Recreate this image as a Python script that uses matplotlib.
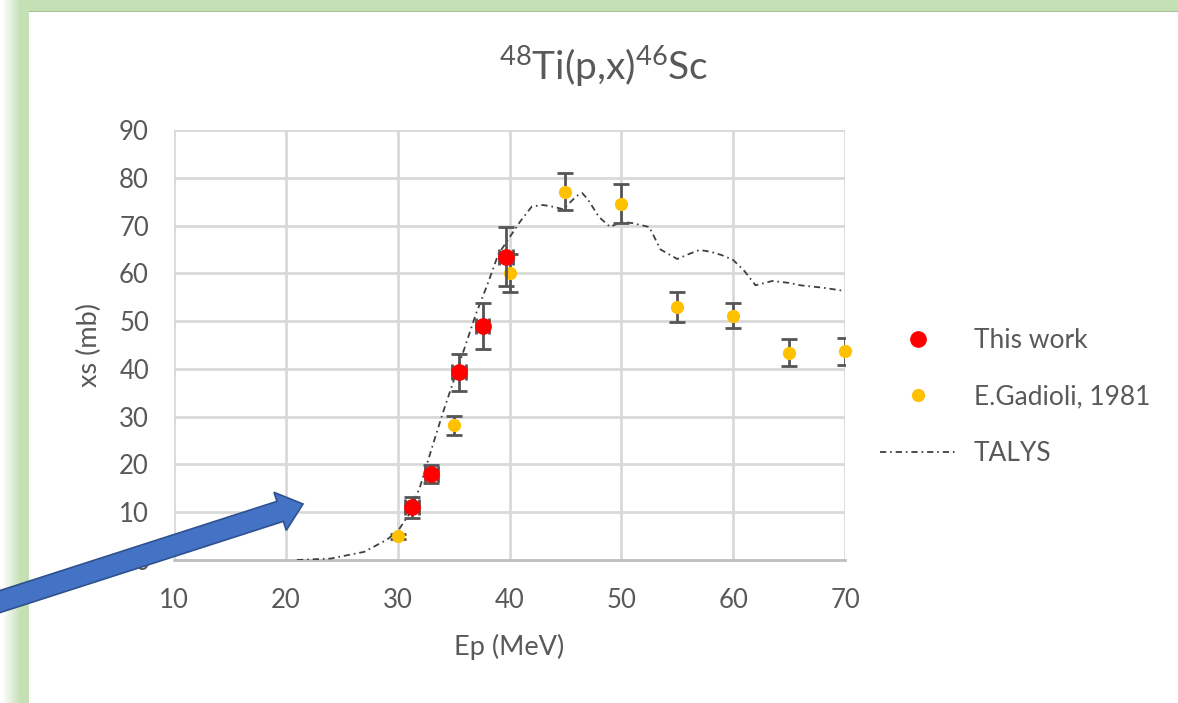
"""48Ti(p,x)46Sc cross section: this work vs Gadioli 1981 vs TALYS."""
import numpy as np
import matplotlib
matplotlib.use("Agg")
import matplotlib.pyplot as plt
from matplotlib.lines import Line2D
from matplotlib.patches import FancyArrow

plt.rcParams["font.family"] = ["Lato", "DejaVu Sans"]
plt.rcParams["mathtext.default"] = "regular"
plt.rcParams["lines.scale_dashes"] = False

# ---- data ----
this_x = [31.3, 33.0, 35.5, 37.6, 39.7]
this_y = [11.0, 18.0, 39.3, 48.9, 63.5]
this_yerr = [2.2, 1.9, 3.9, 4.8, 6.1]
this_xerr = [0.6, 0.6, 0.6, 0.6, 0.6]

gad_x = [30, 35, 40, 45, 50, 55, 60, 65, 70]
gad_y = [5.0, 28.2, 60.1, 77.1, 74.6, 53.0, 51.1, 43.4, 43.7]
gad_yerr = [0.5, 2.0, 4.0, 3.9, 4.1, 3.1, 2.6, 2.8, 2.8]

talys_x = [21, 24, 27, 29, 30, 31, 32, 33, 34, 35, 36, 37, 38, 39, 40, 41, 42,
           43, 44, 44.8, 46, 46.5, 47, 48, 49, 50, 51, 52.5, 53.5, 55, 56, 57,
           58, 59, 60, 61, 62, 63.5, 65, 66, 68, 70]
talys_y = [0, 0.3, 1.7, 4.2, 6.0, 9.5, 15.3, 23.0, 30.5, 37.5, 44.5, 51.5,
           57.5, 64.0, 67.5, 71.0, 74.0, 74.3, 73.9, 73.4, 76.2, 76.8, 75.5,
           71.8, 69.7, 70.8, 70.5, 69.7, 65.0, 63.0, 64.0, 64.9, 64.5, 63.8,
           62.8, 60.5, 57.5, 58.4, 58.0, 57.5, 57.0, 56.3]

xticks = [10, 20, 30, 40, 50, 60, 70]
yticks = [0, 10, 20, 30, 40, 50, 60, 70, 80, 90]

TXT = "#595959"
ERR = "#555555"
DASH = (4.5, 2.8, 1.2, 2.8)
W, H = 1178, 703

fig = plt.figure(figsize=(W / 100, H / 100), dpi=100)

# slide frame: green strip on top and left with a soft shadow
bg = np.ones((H, W, 3))
green = np.array([197, 224, 180]) / 255
cols = np.arange(W)
fade = np.clip((cols - 2) / 18.0, 0, 1)[None, :, None]
mask = np.zeros((H, W, 1))
mask[:11, :, 0] = 1
mask[:, :29, 0] = 1
bg = bg * (1 - mask * fade) + green * mask * fade
bg[11, 29:] = np.array([165, 190, 150]) / 255
fig.figimage(bg, 0, 0, origin="upper", zorder=0)

ax = fig.add_axes([174 / W, 1 - 560 / H, (845 - 174) / W, (560 - 130) / H])
ax.set_zorder(2)
ax.set_facecolor("none")

# TALYS
ax.plot(talys_x, talys_y, color="#404040", lw=1.3, dashes=DASH, zorder=3)

# Gadioli
ax.errorbar(gad_x, gad_y, yerr=gad_yerr, fmt="none", ecolor=ERR,
            elinewidth=2.0, capsize=6, capthick=2.0, zorder=4)
ax.plot(gad_x, gad_y, "o", color="#FFC000", ms=8.5, mec="#FFC000",
        zorder=5, clip_on=False)

# this work
ax.errorbar(this_x, this_y, yerr=this_yerr, xerr=this_xerr, fmt="none",
            ecolor=ERR, elinewidth=2.0, capsize=6, capthick=2.0, zorder=6)
ax.plot(this_x, this_y, "o", color="#FF0000", ms=11, mec="#FF0000",
        zorder=7)

ax.set_xlim(10, 70)
ax.set_ylim(0, 90)
ax.set_xticks(xticks)
ax.set_yticks(yticks)
ax.grid(color="#d9d9d9", lw=2.0, zorder=1)
ax.set_axisbelow(True)
for s in ["top", "right", "left"]:
    ax.spines[s].set_visible(False)
ax.spines["bottom"].set_color("#bfbfbf")
ax.spines["bottom"].set_linewidth(2.0)
ax.tick_params(length=0, labelsize=18.5, colors=TXT)
ax.tick_params(axis="x", pad=20)
ax.tick_params(axis="y", pad=18)

ax.set_xlabel("Ep (MeV)", fontsize=19.5, color=TXT, labelpad=15)
ax.set_ylabel("xs (mb)", fontsize=19.5, color=TXT, labelpad=12)
fig.text(604 / W, 1 - 66 / H, r"$^{48}$Ti(p,x)$^{46}$Sc", fontsize=28,
         color=TXT, ha="center", va="center")

handles = [
    Line2D([], [], ls="none", marker="o", color="#FF0000", ms=11),
    Line2D([], [], ls="none", marker="o", color="#FFC000", ms=8.5),
    Line2D([], [], color="#404040", lw=1.3, dashes=DASH),
]
labels = ["This work", "E.Gadioli, 1981", "TALYS"]
leg = fig.legend(handles, labels, loc="center left",
                 bbox_to_anchor=(880 / W, 1 - 397 / H), frameon=False,
                 fontsize=19, handlelength=2.9, handletextpad=0.65,
                 labelspacing=1.2, borderpad=0, borderaxespad=0, numpoints=1)
for t in leg.get_texts():
    t.set_color(TXT)

# blue arrow pointing at the low-energy threshold
arr = FancyArrow(-0.2, (H - 608) / 100, 3.23, 1.04, width=0.21,
                 head_width=0.4, head_length=0.24, length_includes_head=True,
                 transform=fig.dpi_scale_trans, facecolor="#4472C4",
                 edgecolor="#2F528F", lw=1.2, zorder=20)
fig.add_artist(arr)

fig.savefig("out.png", dpi=100)
